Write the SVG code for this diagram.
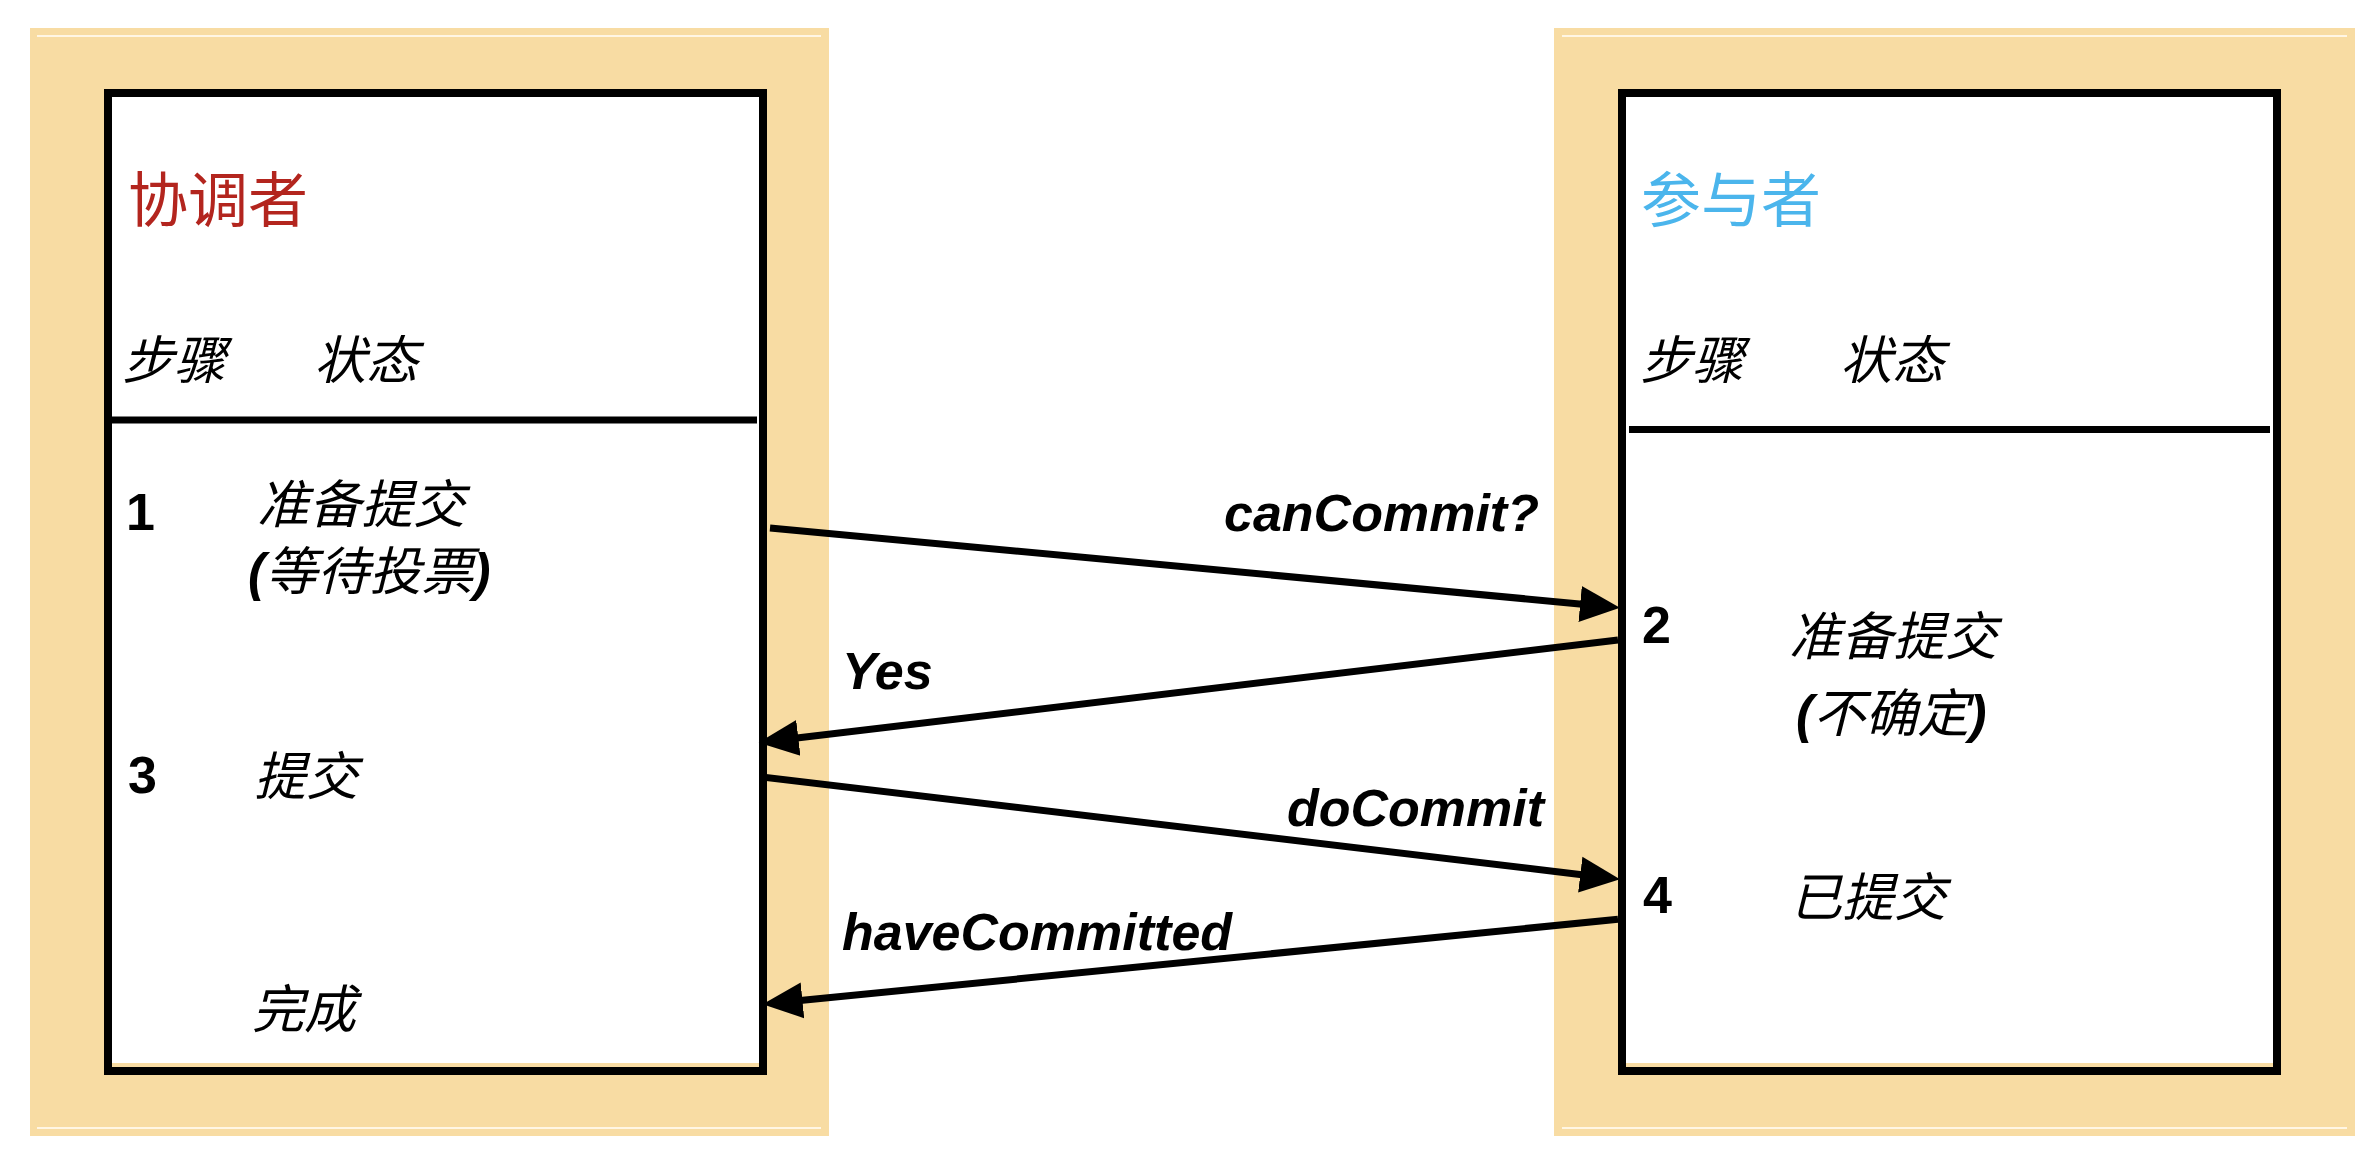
<svg xmlns="http://www.w3.org/2000/svg" width="2380" height="1166" viewBox="0 0 2380 1166">
<defs>
<style>
.bg{fill:#F8DCA3}
.hl{stroke:#FFF6E4;stroke-width:2}
.inner{fill:#FFFFFF}
.box{fill:none;stroke:#000;stroke-width:8}
.div{stroke:#000;stroke-width:7}
.title{font-family:"Noto Sans CJK SC",sans-serif;font-size:60px}
.cj{font-family:"Liberation Sans","Noto Sans CJK SC",sans-serif;font-size:52px;font-style:italic;fill:#000}
.pb{font-weight:bold}
.num{font-family:"Liberation Sans",Arial,sans-serif;font-size:52px;font-weight:bold;fill:#000}
.lbl{font-family:"Liberation Sans",Arial,sans-serif;font-size:52px;font-weight:bold;font-style:italic;fill:#000}
.conn{stroke:#000;stroke-width:7;fill:none;marker-end:url(#ah)}
</style>
<marker id="ah" markerUnits="userSpaceOnUse" markerWidth="44" markerHeight="40" viewBox="0 -20 44 40" refX="10" refY="0" orient="auto">
<path d="M0,-18 L40,0 L0,18 z" fill="#000"/>
</marker>
</defs>
<rect width="2380" height="1166" fill="#FFFFFF"/>

<g id="coordinator">
<rect class="bg" x="30" y="28" width="799" height="1108"/>
<line class="hl" x1="37" y1="36" x2="821" y2="36"/>
<line class="hl" x1="37" y1="1128" x2="821" y2="1128"/>
<rect class="inner" x="112" y="97" width="647" height="966"/>
<rect class="box" x="108" y="93" width="655" height="978"/>
<line class="div" x1="112" y1="420" x2="757" y2="420"/>
<text class="title" x="128" y="222" fill="#B3251E">协调者</text>
<text class="cj" x="122" y="379">步骤</text>
<text class="cj" x="314" y="379">状态</text>
<text class="num" x="126" y="530">1</text>
<text class="cj" x="257" y="523">准备提交</text>
<text class="cj" x="248" y="590"><tspan class="pb">(</tspan>等待投票<tspan class="pb">)</tspan></text>
<text class="num" x="128" y="793">3</text>
<text class="cj" x="254" y="795">提交</text>
<text class="cj" x="252" y="1028">完成</text>
</g>

<g id="participant">
<rect class="bg" x="1554" y="28" width="801" height="1108"/>
<line class="hl" x1="1562" y1="36" x2="2347" y2="36"/>
<line class="hl" x1="1562" y1="1128" x2="2347" y2="1128"/>
<rect class="inner" x="1626" y="97" width="647" height="966"/>
<rect class="box" x="1622" y="93" width="655" height="978"/>
<line class="div" x1="1629" y1="429.5" x2="2270" y2="429.5"/>
<text class="title" x="1641" y="222" fill="#4BB5EC">参与者</text>
<text class="cj" x="1640" y="379">步骤</text>
<text class="cj" x="1840" y="379">状态</text>
<text class="num" x="1642" y="643">2</text>
<text class="cj" x="1789" y="655">准备提交</text>
<text class="cj" x="1796" y="732"><tspan class="pb">(</tspan>不确定<tspan class="pb">)</tspan></text>
<text class="num" x="1643" y="913">4</text>
<text class="cj" x="1790" y="916">已提交</text>
</g>

<g id="connectors">
<line class="conn" x1="770" y1="528" x2="1590.1" y2="604.9"/>
<line class="conn" x1="1618" y1="640" x2="788.4" y2="739.1"/>
<line class="conn" x1="760" y1="776.7" x2="1590.2" y2="875.7"/>
<line class="conn" x1="1618" y1="919.3" x2="792.5" y2="1001.3"/>
<text class="lbl" x="1224" y="531">canCommit?</text>
<text class="lbl" x="842" y="689">Yes</text>
<text class="lbl" x="1287" y="826">doCommit</text>
<text class="lbl" x="842" y="950">haveCommitted</text>
</g>
</svg>
